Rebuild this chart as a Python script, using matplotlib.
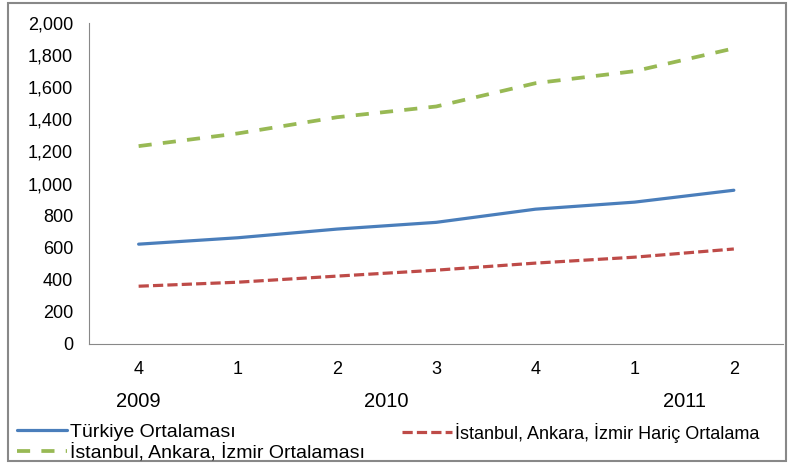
import matplotlib.pyplot as plt
from matplotlib.ticker import FuncFormatter, MultipleLocator
from matplotlib.patches import Rectangle
from matplotlib.transforms import blended_transform_factory

plt.rcParams['font.family'] = ['Liberation Sans', 'DejaVu Sans']

quarters = ['4', '1', '2', '3', '4', '1', '2']
years = ['2009', '2010', '2011']
year_pos = [0, 2.5, 5.5]
turkiye = [622, 662, 716, 758, 840, 884, 958]
haric = [360, 385, 423, 460, 504, 541, 592]
buyuk3 = [1233, 1312, 1413, 1480, 1625, 1700, 1842]

fig = plt.figure(figsize=(7.9, 4.67), dpi=100)
ax = fig.add_axes([0.1127, 0.2634, 0.879, 0.6873])
x = list(range(len(quarters)))

l1, = ax.plot(x, turkiye, color='#4A7EBB', lw=2.3, solid_capstyle='round',
              label='Türkiye Ortalaması')
l3, = ax.plot(x, buyuk3, color='#98B954', lw=2.7, dashes=(3.5, 3.0),
              label='İstanbul, Ankara, İzmir Ortalaması')
l2, = ax.plot(x, haric, color='#BE4B48', lw=2.3, dashes=(3.2, 1.3),
              label='İstanbul, Ankara, İzmir Hariç Ortalama')

ax.set_xlim(-0.5, len(quarters) - 0.5)
ax.set_ylim(0, 2000)
ax.yaxis.set_major_locator(MultipleLocator(200))
ax.yaxis.set_major_formatter(FuncFormatter(lambda v, p: f'{v:,.0f}'))
ax.set_xticks(x)
ax.set_xticklabels(quarters)
ax.tick_params(length=0, labelsize=13, pad=12.5)
ax.tick_params(axis='y', pad=11.5)
for s in ['top', 'right']:
    ax.spines[s].set_visible(False)
for s in ['left', 'bottom']:
    ax.spines[s].set_color('#888888')
    ax.spines[s].set_linewidth(0.8)

tr = blended_transform_factory(ax.transData, ax.transAxes)
for xp, yr in zip(year_pos, years):
    ax.text(xp, -0.18, yr, transform=tr, ha='center', va='center', fontsize=14.5)

leg_kw = dict(loc='upper left', frameon=False, handlelength=2.55,
              handletextpad=0.2, labelspacing=0.14, borderpad=0, borderaxespad=0)
fig.legend(handles=[l1, l3], bbox_to_anchor=(0.0215, 0.094), fontsize=14, **leg_kw)
fig.legend(handles=[l2], bbox_to_anchor=(0.509, 0.095), fontsize=13,
           **{**leg_kw, 'handlelength': 2.75})

fig.patches.append(Rectangle((0.0101, 0.0128), 0.985, 0.981, transform=fig.transFigure,
                             fill=False, edgecolor='#888888', lw=1.5))

fig.savefig('out.png', dpi=100)
